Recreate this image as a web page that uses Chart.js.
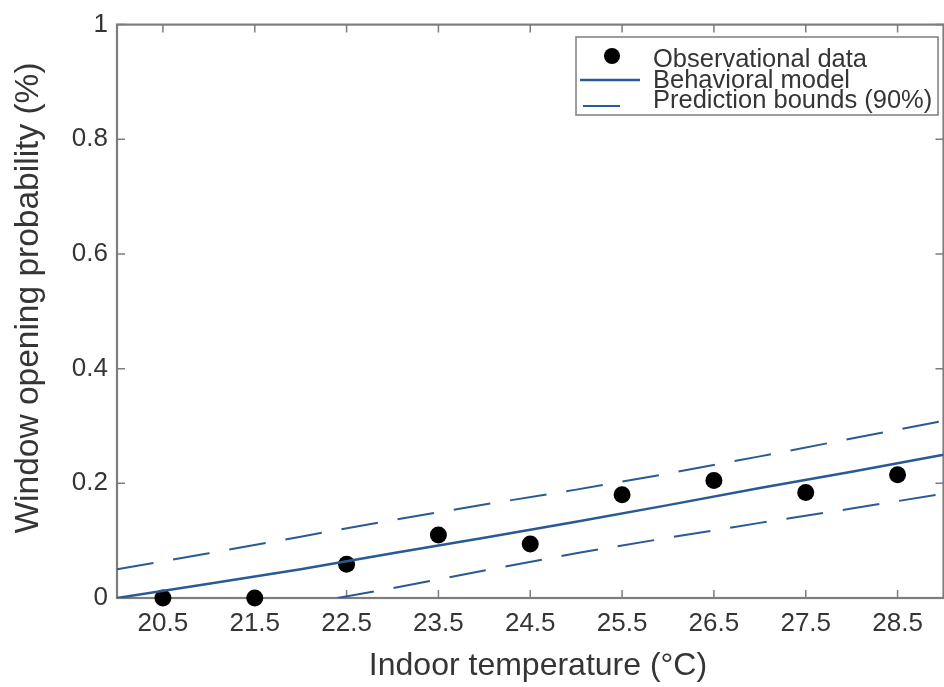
<!DOCTYPE html>
<html>
<head>
<meta charset="utf-8">
<title>Window opening probability vs indoor temperature</title>
<script src="https://cdn.jsdelivr.net/npm/chart.js@4/dist/chart.umd.min.js"></script>
<style>
  html, body { margin: 0; padding: 0; background: #fff; overflow: hidden; }
  #wrap { width: 952px; height: 687px; position: relative; }
</style>
</head>
<body>
<div id="wrap"><canvas id="ch"></canvas></div>
<script>
// ── Observed opening rates per temperature bin ──
const obsTemp = [20.5, 21.5, 22.5, 23.5, 24.5, 25.5, 26.5, 27.5, 28.5];
const obsProb = [0, 0, 0.059, 0.110, 0.094, 0.180, 0.205, 0.184, 0.215];

// ── Fitted behavioural model and 90% bounds ──
const modelTemp = [20, 21, 22, 23, 24, 25, 26, 27, 28, 29];
const modelProb = [0.000, 0.025, 0.050, 0.078, 0.105, 0.133, 0.162, 0.192, 0.220, 0.250];
const upperTemp = [20, 21, 22, 23, 24, 25, 26, 27, 28, 29];
const upperProb = [0.050, 0.078, 0.107, 0.136, 0.163, 0.189, 0.217, 0.247, 0.278, 0.309];
const lowerTemp = [22.4, 23, 24, 25, 26, 27, 28, 29];
const lowerProb = [0.000, 0.017, 0.048, 0.078, 0.105, 0.131, 0.156, 0.182];

// ── Axis ticks ──
const xTicks = [20.5, 21.5, 22.5, 23.5, 24.5, 25.5, 26.5, 27.5, 28.5];
const yTicks = [0, 0.2, 0.4, 0.6, 0.8, 1];

const X_TITLE = 'Indoor temperature (°C)';
const Y_TITLE = 'Window opening probability (%)';

const LINE_BLUE = '#2a5a93';
const AXIS_GREY = '#7d7d7d';
const TXT = '#353535';
const FONT = "'Liberation Sans', Arial, sans-serif";
const DASH = [37, 20];

const pts = (xs, ys) => xs.map((x, i) => ({ x: x, y: ys[i] }));

// frame + inward tick marks, drawn under the data
const frameTicks = {
  id: 'frameTicks',
  beforeDatasetsDraw(chart) {
    const { ctx, chartArea: a, scales: { x, y } } = chart;
    const tl = 8;
    ctx.save();
    ctx.strokeStyle = AXIS_GREY;
    ctx.lineWidth = 1.5;
    ctx.beginPath();
    xTicks.forEach(v => {
      const px = x.getPixelForValue(v);
      ctx.moveTo(px, a.bottom); ctx.lineTo(px, a.bottom - tl);
      ctx.moveTo(px, a.top);    ctx.lineTo(px, a.top + tl);
    });
    yTicks.forEach(v => {
      const py = y.getPixelForValue(v);
      ctx.moveTo(a.left, py);  ctx.lineTo(a.left + tl, py);
      ctx.moveTo(a.right, py); ctx.lineTo(a.right - tl, py);
    });
    ctx.stroke();
    ctx.lineWidth = 2.2;
    ctx.strokeRect(a.left, a.top, a.right - a.left, a.bottom - a.top);
    ctx.restore();
  }
};

// axis titles, placed in the space reserved by afterFit
const axisTitles = {
  id: 'axisTitles',
  afterDraw(chart) {
    const ctx = chart.ctx;
    ctx.save();
    ctx.fillStyle = TXT;
    ctx.textAlign = 'center';
    ctx.textBaseline = 'middle';
    ctx.font = '32px ' + FONT;
    ctx.fillText(X_TITLE, 538, 666);
    ctx.translate(29, 298);
    ctx.rotate(-Math.PI / 2);
    ctx.font = '33.5px ' + FONT;
    ctx.fillText(Y_TITLE, 0, 0);
    ctx.restore();
  }
};

// boxed legend in the upper right corner
const boxLegend = {
  id: 'boxLegend',
  afterDatasetsDraw(chart) {
    const ctx = chart.ctx;
    const bx = 576, by = 37, bw = 362, bh = 78;
    ctx.save();
    ctx.fillStyle = '#fff';
    ctx.fillRect(bx, by, bw, bh);
    ctx.strokeStyle = AXIS_GREY;
    ctx.lineWidth = 1.5;
    ctx.strokeRect(bx, by, bw, bh);

    const rows = [
      { label: 'Observational data', y: 60 },
      { label: 'Behavioral model', y: 80.5 },
      { label: 'Prediction bounds (90%)', y: 100.5 }
    ];
    // marker: dot
    ctx.fillStyle = '#000';
    ctx.beginPath();
    ctx.arc(612, 56, 8, 0, Math.PI * 2);
    ctx.fill();
    // marker: solid line
    ctx.strokeStyle = LINE_BLUE;
    ctx.lineWidth = 2.5;
    ctx.beginPath(); ctx.moveTo(580, 80); ctx.lineTo(640, 80); ctx.stroke();
    // marker: dashed line
    ctx.lineWidth = 2;
    ctx.beginPath(); ctx.moveTo(583, 106); ctx.lineTo(620, 106); ctx.stroke();

    ctx.fillStyle = TXT;
    ctx.font = '25.5px ' + FONT;
    ctx.textAlign = 'left';
    ctx.textBaseline = 'middle';
    rows.forEach(r => ctx.fillText(r.label, 653, r.y));
    ctx.restore();
  }
};

new Chart(document.getElementById('ch'), {
  type: 'scatter',
  data: {
    datasets: [
      {
        label: 'Behavioral model',
        data: pts(modelTemp, modelProb),
        showLine: true, pointRadius: 0,
        borderColor: LINE_BLUE, borderWidth: 2.5,
        order: 0
      },
      {
        label: 'Prediction bounds (90%)',
        data: pts(upperTemp, upperProb),
        showLine: true, pointRadius: 0,
        borderColor: LINE_BLUE, borderWidth: 2, borderDash: DASH,
        order: 0
      },
      {
        label: 'Prediction bounds (90%) lower',
        data: pts(lowerTemp, lowerProb),
        showLine: true, pointRadius: 0,
        borderColor: LINE_BLUE, borderWidth: 2, borderDash: DASH,
        order: 0
      },
      {
        label: 'Observational data',
        data: pts(obsTemp, obsProb),
        pointRadius: 8.5, pointHoverRadius: 8.5,
        pointBackgroundColor: '#000', pointBorderColor: '#000', pointBorderWidth: 0,
        clip: false,
        order: 1
      }
    ]
  },
  plugins: [frameTicks, boxLegend, axisTitles],
  options: {
    responsive: true, maintainAspectRatio: false,
    animation: false,
    layout: { padding: { top: 20, right: 4, bottom: 0, left: 0 } },
    plugins: { legend: { display: false }, tooltip: { enabled: false } },
    scales: {
      x: {
        type: 'linear', min: 20, max: 29,
        afterBuildTicks: s => { s.ticks = xTicks.map(v => ({ value: v })); },
        afterFit: s => { s.height = 89; },
        grid: { display: false, drawTicks: false },
        border: { display: false },
        ticks: { color: TXT, font: { family: FONT, size: 26 }, padding: 10, maxRotation: 0,
                 callback: v => v.toFixed(1) }
      },
      y: {
        type: 'linear', min: 0, max: 1,
        afterBuildTicks: s => { s.ticks = yTicks.map(v => ({ value: v })); },
        afterFit: s => { s.width = 117; },
        grid: { display: false, drawTicks: false },
        border: { display: false },
        ticks: { color: TXT, font: { family: FONT, size: 26 }, padding: 9,
                 callback: v => String(+v.toFixed(1)) }
      }
    }
  }
});
</script>
</body>
</html>
